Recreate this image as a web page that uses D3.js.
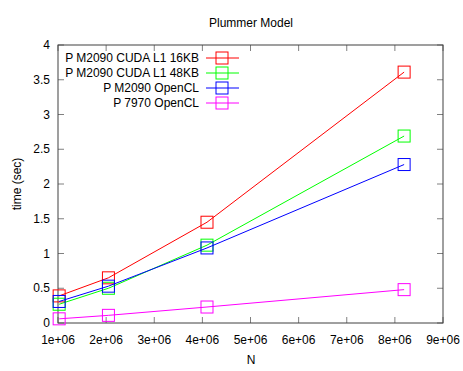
<!DOCTYPE html>
<html>
<head>
<meta charset="utf-8">
<script src="https://cdn.jsdelivr.net/npm/d3@7"></script>
<style>
  body { margin: 0; background: #fff; }
  text { font-family: "Liberation Sans", Arial, sans-serif; font-size: 12px; fill: #000; }
</style>
</head>
<body>
<div id="chart"></div>
<script>
// data
const sizes = [1024000, 2048000, 4096000, 8192000];
const seriesNames = ["P M2090 CUDA L1 16KB", "P M2090 CUDA L1 48KB", "P M2090 OpenCL", "P 7970 OpenCL"];
const cuda16 = [0.39, 0.65, 1.45, 3.61];
const cuda48 = [0.27, 0.50, 1.12, 2.69];
const opencl2090 = [0.31, 0.53, 1.08, 2.28];
const opencl7970 = [0.06, 0.11, 0.23, 0.48];
const colors = ["#ff0000", "#00ff00", "#0000ff", "#ff00ff"];
const xTicks = [1e6, 2e6, 3e6, 4e6, 5e6, 6e6, 7e6, 8e6, 9e6];
const yTicks = [0, 0.5, 1, 1.5, 2, 2.5, 3, 3.5, 4];

const allSeries = [cuda16, cuda48, opencl2090, opencl7970];

const width = 463, height = 371;
const margin = { top: 45, right: 20, bottom: 48, left: 58 };

const svg = d3.select("#chart")
  .append("svg")
  .attr("width", width)
  .attr("height", height);

const x = d3.scaleLinear()
  .domain([1e6, 9e6])
  .range([margin.left, width - margin.right]);

const y = d3.scaleLinear()
  .domain([0, 4])
  .range([height - margin.bottom, margin.top]);

const tickLen = 6;
const tickColor = "#808080";

// ticks on all four sides, pointing in (gnuplot style)
xTicks.forEach(t => {
  svg.append("line")
    .attr("x1", x(t)).attr("x2", x(t))
    .attr("y1", y(0)).attr("y2", y(0) - tickLen)
    .attr("stroke", tickColor);
  svg.append("line")
    .attr("x1", x(t)).attr("x2", x(t))
    .attr("y1", y(4)).attr("y2", y(4) + tickLen)
    .attr("stroke", tickColor);
  svg.append("text")
    .attr("x", x(t))
    .attr("y", y(0) + 21)
    .attr("text-anchor", "middle")
    .text(d3.format(".0e")(t).replace("e+", "e+0"));
});

yTicks.forEach(t => {
  svg.append("line")
    .attr("x1", x(1e6)).attr("x2", x(1e6) + tickLen)
    .attr("y1", y(t)).attr("y2", y(t))
    .attr("stroke", tickColor);
  svg.append("line")
    .attr("x1", x(9e6)).attr("x2", x(9e6) - tickLen)
    .attr("y1", y(t)).attr("y2", y(t))
    .attr("stroke", tickColor);
  svg.append("text")
    .attr("x", x(1e6) - 8)
    .attr("y", y(t) + 4)
    .attr("text-anchor", "end")
    .text(t);
});

// plot border
svg.append("rect")
  .attr("x", x(1e6))
  .attr("y", y(4))
  .attr("width", x(9e6) - x(1e6))
  .attr("height", y(0) - y(4))
  .attr("fill", "none")
  .attr("stroke", "#404040")
  .attr("stroke-width", 1);

// title and axis labels
svg.append("text")
  .attr("x", 251)
  .attr("y", 27)
  .attr("text-anchor", "middle")
  .text("Plummer Model");

svg.append("text")
  .attr("x", 251)
  .attr("y", 364)
  .attr("text-anchor", "middle")
  .text("N");

svg.append("text")
  .attr("transform", "rotate(-90)")
  .attr("x", -184)
  .attr("y", 21)
  .attr("text-anchor", "middle")
  .text("time (sec)");

// lines and markers
const line = d3.line()
  .x((d, i) => x(sizes[i]))
  .y(d => y(d));

const box = 12;

allSeries.forEach((vals, k) => {
  svg.append("path")
    .datum(vals)
    .attr("fill", "none")
    .attr("stroke", colors[k])
    .attr("stroke-width", 1)
    .attr("d", line);

  svg.selectAll(null)
    .data(vals)
    .enter()
    .append("rect")
    .attr("x", (d, i) => x(sizes[i]) - box / 2)
    .attr("y", d => y(d) - box / 2)
    .attr("width", box)
    .attr("height", box)
    .attr("fill", "none")
    .attr("stroke", colors[k])
    .attr("stroke-width", 1);
});

// legend
const legend = svg.append("g");
seriesNames.forEach((name, k) => {
  const ly = 58 + k * 15;
  legend.append("text")
    .attr("x", 199)
    .attr("y", ly + 4)
    .attr("text-anchor", "end")
    .text(name);
  legend.append("line")
    .attr("x1", 206).attr("x2", 239)
    .attr("y1", ly).attr("y2", ly)
    .attr("stroke", colors[k]);
  legend.append("rect")
    .attr("x", 222 - box / 2)
    .attr("y", ly - box / 2)
    .attr("width", box)
    .attr("height", box)
    .attr("fill", "none")
    .attr("stroke", colors[k]);
});
</script>
</body>
</html>
